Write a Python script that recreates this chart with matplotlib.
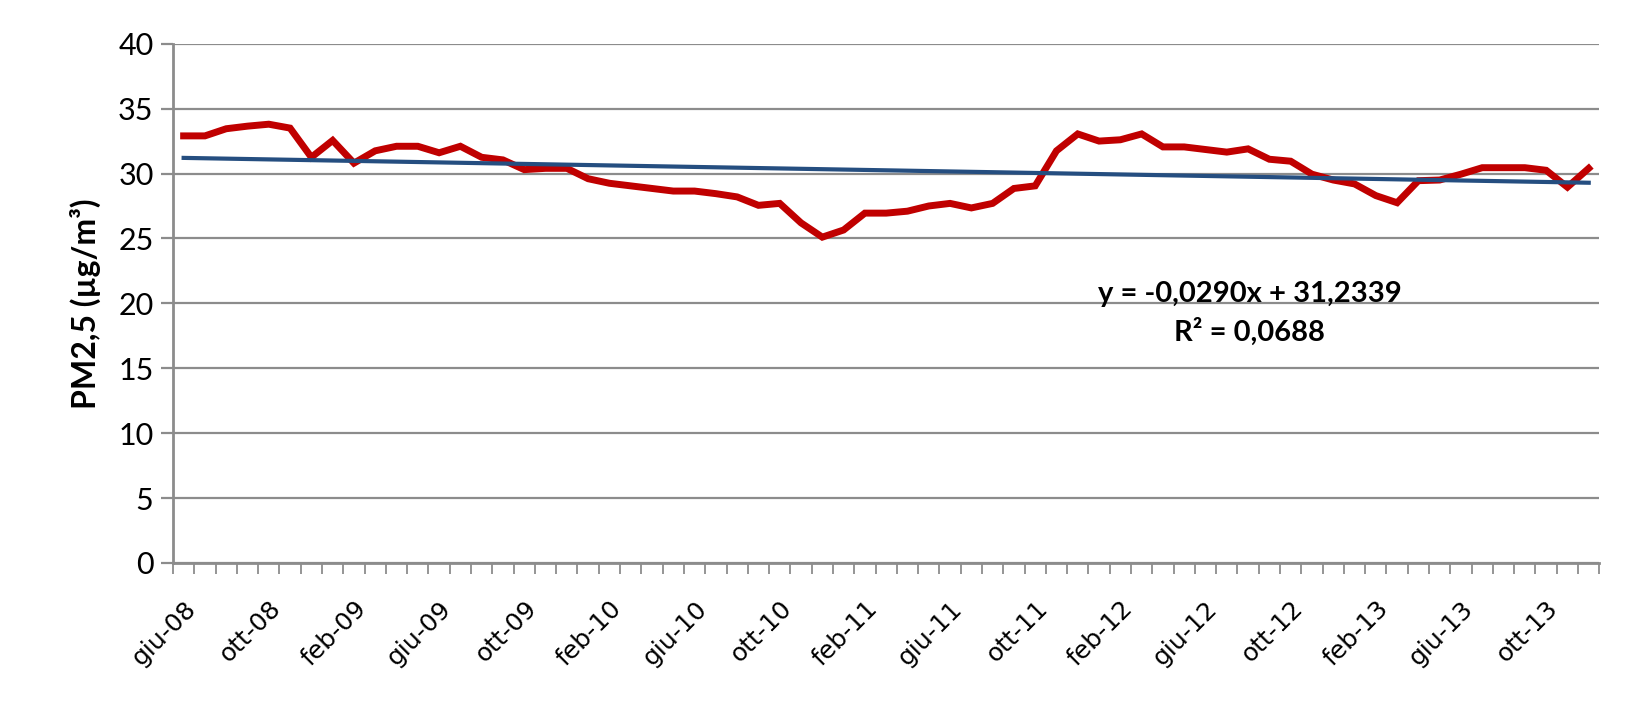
import numpy as np
import matplotlib
matplotlib.use('Agg')
from matplotlib import pyplot as plt

# PM2,5 medie mensili, giu-08 .. dic-13
pm25 = [32.9, 32.9, 33.45, 33.65, 33.8, 33.5, 31.25, 32.55, 30.8, 31.75,
        32.1, 32.1, 31.6, 32.1, 31.25, 31.05, 30.3, 30.4, 30.4, 29.6,
        29.25, 29.05, 28.85, 28.65, 28.65, 28.45, 28.2, 27.55, 27.7, 26.2,
        25.1, 25.65, 26.95, 26.95, 27.1, 27.5, 27.7, 27.35, 27.7, 28.85,
        29.05, 31.75, 33.05, 32.5, 32.6, 33.05, 32.05, 32.05, 31.85, 31.65,
        31.9, 31.1, 30.95, 29.95, 29.5, 29.2, 28.3, 27.75, 29.45, 29.5,
        29.95, 30.45, 30.45, 30.45, 30.25, 28.95, 30.4]
tick_pos = [0, 4, 8, 12, 16, 20, 24, 28, 32, 36, 40, 44, 48, 52, 56, 60, 64]
tick_labels = ['giu-08', 'ott-08', 'feb-09', 'giu-09', 'ott-09', 'feb-10',
               'giu-10', 'ott-10', 'feb-11', 'giu-11', 'ott-11', 'feb-12',
               'giu-12', 'ott-12', 'feb-13', 'giu-13', 'ott-13']
slope = -0.0290
intercept = 31.2339
r2 = 0.0688

n = len(pm25)
x = np.arange(n)
trend = slope * (x + 1) + intercept

fig = plt.figure(figsize=(16.32, 7.12), dpi=100)
ax = fig.add_axes([0.106, 0.2093, 0.874, 0.7293])

ax.plot(x, pm25, color='#C00000', linewidth=5, solid_joinstyle='miter', zorder=3)
ax.plot(x, trend, color='#254E80', linewidth=3, zorder=4)

ax.set_xlim(-0.5, n - 0.5)
ax.set_ylim(0, 40)
ax.set_yticks(range(0, 41, 5))
ax.grid(axis='y', color='#8c8c8c', linewidth=1.6)
ax.set_axisbelow(True)

ax.set_xticks(tick_pos)
ax.set_xticklabels(tick_labels, rotation=45, ha='right', va='top',
                   rotation_mode='anchor', fontsize=18, family='DejaVu Sans')
ax.set_xticks(np.arange(-0.5, n), minor=True)
ax.tick_params(axis='x', which='major', length=0, pad=24)
ax.tick_params(axis='x', which='minor', length=8, width=1.3, color='#8c8c8c')
ax.tick_params(axis='y', length=9, width=1.6, color='#8c8c8c', labelsize=22, pad=5)
for lab in ax.get_yticklabels():
    lab.set_family('Lato')

for s in ['top', 'right']:
    ax.spines[s].set_visible(False)
for s in ['left', 'bottom']:
    ax.spines[s].set_color('#8c8c8c')
    ax.spines[s].set_linewidth(2)

ax.set_ylabel('PM2,5 (µg/m³)', fontsize=23, fontweight='bold', family='Lato', labelpad=12)

ax.text(0.755, 0.48, 'y = -0,0290x + 31,2339\nR² = 0,0688', transform=ax.transAxes,
        ha='center', va='center', fontsize=21, fontweight='bold', family='Lato',
        linespacing=1.45)

fig.savefig('out.png', dpi=100)
